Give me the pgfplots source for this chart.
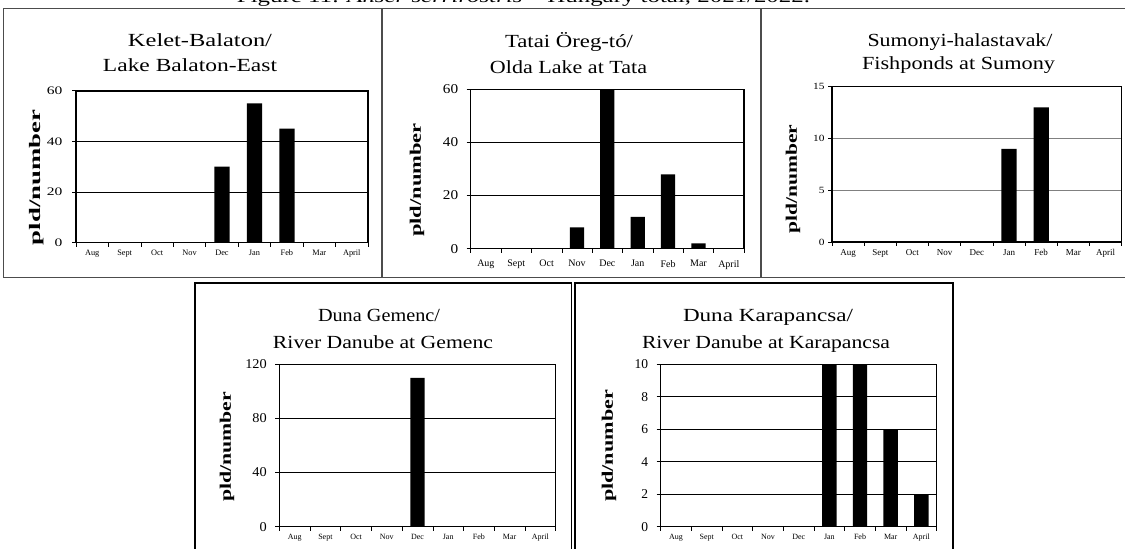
\documentclass[border=0pt]{standalone}
\usepackage{pgfplots}
\pgfplotsset{compat=1.18}
\usepackage{fontspec}
\usepackage{graphicx}
\setmainfont{Liberation Serif}

% two-line panel titles and the bold y label, stretched to their set widths
\newcommand\ttl[2]{\resizebox{#1pt}{\height}{\fontsize{18.5}{20}\selectfont #2}}
\newcommand\ylab[1]{\resizebox{#1pt}{\height}{\bfseries\fontsize{16}{16}\selectfont pld/number}}

\pgfplotsset{
  panel/.style={
    scale only axis, ybar, bar width=0.47, bar shift=0pt,
    xmin=-0.5, xmax=8.5, ymin=0,
    xtick={-0.5,0.5,...,8.5}, x tick label as interval,
    xticklabels={Aug,Sept,Oct,Nov,Dec,Jan,Feb,Mar,April},
    tick align=outside, tick pos=left, major tick length=4pt,
    tick style={black, line width=0.6pt},
    ymajorgrids, major grid style={black, line width=0.6pt},
    axis line style={black, line width=1.3pt},
    /pgf/number format/assume math mode=true,
  },
  bars/.style={fill=black, draw=none},
}

\begin{document}
\begin{tikzpicture}[x=1pt,y=1pt]
\useasboundingbox (0,0) rectangle (1125,549);

% lower-left corners of the five plot areas
\coordinate (A1) at (76,549-242.7);
\coordinate (A2) at (470.7,549-248.7);
\coordinate (A3) at (832,549-242);
\coordinate (A4) at (279.3,549-526.7);
\coordinate (A5) at (660.7,549-526.7);

% figure caption (only its lower part falls on the page)
\node[anchor=base, inner sep=0] at (523.5,546)
  {\resizebox{573pt}{\height}{\fontsize{18}{18}\selectfont Figure 11: \textit{Anser serrirostris} – Hungary total, 2021/2022.}};

% chart-area frames
\draw[gray!60!black, line width=1pt] (3,549-9) rectangle (381,549-278);
\draw[gray!60!black, line width=1pt] (382.5,549-9) rectangle (760,549-278);
\draw[gray!60!black, line width=1pt] (761.5,549-9) rectangle (1140,549-278);
\draw[black, line width=1.4pt] (195,549-283) rectangle (571.5,-20);
\draw[black, line width=1.4pt] (575,549-283) rectangle (953,-20);

% ---------- Kelet-Balaton ----------
\node[anchor=base, inner sep=0] at (200,549-46.7) {\ttl{144}{Kelet-Balaton/}};
\node[anchor=base, inner sep=0] at (190,549-71.7) {\ttl{174}{Lake Balaton-East}};
\node[rotate=90, inner sep=0] at (37,549-177.5) {\ylab{135}};
\begin{axis}[panel, at={(A1)}, anchor=south west,
  width=292pt, height=152pt, ymax=60, ytick={0,20,40,60},
  yticklabel={\scalebox{1.35}[1]{\pgfmathprintnumber{\tick}}},
  yticklabel style={font=\fontsize{11.5}{12}\selectfont, xshift=-6pt},
  xticklabel style={font=\fontsize{8.3}{9}\selectfont}]
\addplot[bars] coordinates {(0,0) (1,0) (2,0) (3,0) (4,30) (5,55) (6,45) (7,0) (8,0)};
\end{axis}
% heavier top and right edges of this plot area
\draw[black, line width=2pt] (76,549-90.7) -- (368,549-90.7) -- (368,549-242.7);

% ---------- Tatai Oreg-to ----------
\node[anchor=base, inner sep=0] at (569,549-47.7) {\ttl{128}{Tatai Öreg-tó/}};
\node[anchor=base, inner sep=0] at (568.5,549-73.3) {\ttl{157}{Olda Lake at Tata}};
\node[rotate=90, inner sep=0] at (417,549-180) {\ylab{114}};
\begin{axis}[panel, at={(A2)}, anchor=south west,
  width=273.3pt, height=159.4pt, ymax=60, ytick={0,20,40,60},
  yticklabel={\scalebox{1.13}[1]{\pgfmathprintnumber{\tick}}},
  yticklabel style={font=\fontsize{13.5}{14}\selectfont, xshift=-5pt},
  xticklabel style={font=\fontsize{10}{11}\selectfont, yshift=-4pt}]
\addplot[bars] coordinates {(0,0) (1,0) (2,0) (3,8) (4,60) (5,12) (6,28) (7,2) (8,0)};
\end{axis}

% ---------- Sumonyi-halastavak ----------
\node[anchor=base, inner sep=0] at (960,549-46.7) {\ttl{185}{Sumonyi-halastavak/}};
\node[anchor=base, inner sep=0] at (958.5,549-70) {\ttl{193}{Fishponds at Sumony}};
\node[rotate=90, inner sep=0] at (793,549-179) {\ylab{109}};
\begin{axis}[panel, at={(A3)}, anchor=south west,
  width=289.7pt, height=155.3pt, ymax=15, ytick={0,5,10,15},
  major grid style={gray, line width=0.8pt},
  yticklabel={\scalebox{1.2}[1]{\pgfmathprintnumber{\tick}}},
  yticklabel style={font=\fontsize{9.5}{10}\selectfont, xshift=0pt},
  xticklabel style={font=\fontsize{9}{10}\selectfont}]
\addplot[bars] coordinates {(0,0) (1,0) (2,0) (3,0) (4,0) (5,9) (6,13) (7,0) (8,0)};
\end{axis}

% ---------- Duna Gemenc ----------
\node[anchor=base, inner sep=0] at (379,549-321.7) {\ttl{122}{Duna Gemenc/}};
\node[anchor=base, inner sep=0] at (383,549-348.3) {\ttl{220}{River Danube at Gemenc}};
\node[rotate=90, inner sep=0] at (227,549-447) {\ylab{110}};
\begin{axis}[panel, at={(A4)}, anchor=south west,
  width=276.4pt, height=162.4pt, ymax=120, ytick={0,40,80,120},
  major grid style={black, line width=1.4pt},
  yticklabel={\scalebox{1.06}[1]{\pgfmathprintnumber{\tick}}},
  yticklabel style={font=\fontsize{13.5}{14}\selectfont, xshift=-5pt},
  xticklabel style={font=\fontsize{8}{9}\selectfont}]
\addplot[bars] coordinates {(0,0) (1,0) (2,0) (3,0) (4,110) (5,0) (6,0) (7,0) (8,0)};
\end{axis}

% ---------- Duna Karapancsa ----------
\node[anchor=base, inner sep=0] at (768,549-321.7) {\ttl{170}{Duna Karapancsa/}};
\node[anchor=base, inner sep=0] at (766,549-348.3) {\ttl{248}{River Danube at Karapancsa}};
\node[rotate=90, inner sep=0] at (609,549-446) {\ylab{112}};
\begin{axis}[panel, at={(A5)}, anchor=south west,
  width=276pt, height=162.4pt, ymax=10, ytick={0,2,4,6,8,10},
  major grid style={black, line width=1.4pt},
  yticklabel={\pgfmathprintnumber{\tick}},
  yticklabel style={font=\fontsize{13.5}{14}\selectfont, xshift=-5pt},
  xticklabel style={font=\fontsize{8}{9}\selectfont}]
\addplot[bars] coordinates {(0,0) (1,0) (2,0) (3,0) (4,0) (5,10) (6,10) (7,6) (8,2)};
\end{axis}
\end{tikzpicture}
\end{document}
